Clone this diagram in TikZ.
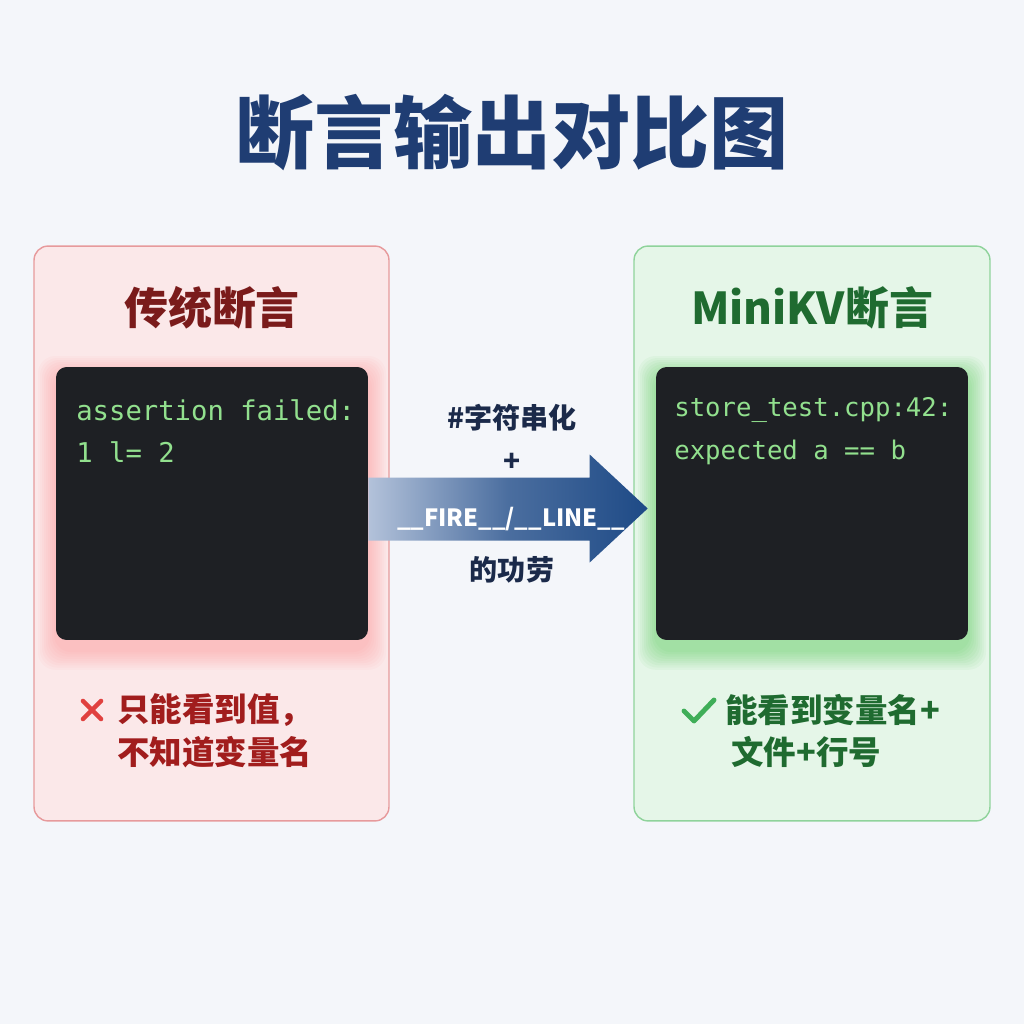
\documentclass[tikz,border=0pt]{standalone}
\usepackage{fontspec}
\newfontfamily\cjk{Noto Sans CJK SC}
\newfontfamily\mono{DejaVu Sans Mono}
\usetikzlibrary{calc}
\definecolor{bg}{HTML}{F4F6FA}
\definecolor{redbg}{HTML}{FBE8E9}
\definecolor{redline}{HTML}{E79A9C}
\definecolor{greenbg}{HTML}{E5F6E8}
\definecolor{greenline}{HTML}{8FD39B}
\definecolor{termbg}{HTML}{1E2024}
\definecolor{termtxt}{HTML}{92E08E}
\definecolor{navy}{HTML}{1F3D73}
\definecolor{darknavy}{HTML}{1B2A4A}
\definecolor{darkred}{HTML}{7A1B1B}
\definecolor{redtxt}{HTML}{A11D1D}
\definecolor{redx}{HTML}{E0413F}
\definecolor{darkgreen}{HTML}{1F6B30}
\definecolor{greencheck}{HTML}{3FAE58}
\definecolor{arrowdark}{HTML}{1E4A86}
\definecolor{arrowlight}{HTML}{B3C2DA}
\begin{document}
\begin{tikzpicture}[x=0.02cm,y=-0.02cm,
  panel/.style={rectangle, rounded corners=8pt, line width=0.8pt},
  term/.style={rectangle, rounded corners=6pt, fill=termbg, minimum width=6.24cm, minimum height=5.46cm},
  termtext/.style={text=termtxt, anchor=west, inner sep=0pt},
  heading/.style={font=\cjk\bfseries\fontsize{25}{30}\selectfont},
  arrowtext/.style={font=\cjk\bfseries\fontsize{16}{20}\selectfont, text=darknavy},
  note/.style={font=\cjk\bfseries\fontsize{18.5}{22}\selectfont, anchor=west, inner sep=0pt}]
\useasboundingbox (0,0) rectangle (1024,1024);
\fill[bg] (0,0) rectangle (1024,1024);

% title
\node[font=\cjk\bfseries\fontsize{45}{50}\selectfont, text=navy] (title) at (512,133) {断言输出对比图};

% panels
\node[panel, fill=redbg, draw=redline, minimum width=7.1cm, minimum height=11.5cm] (lp) at (211.5,533.5) {};
\node[panel, fill=greenbg, draw=greenline, minimum width=7.12cm, minimum height=11.5cm] (rp) at (812,533.5) {};

\node[heading, text=darkred] (lh) at (212,308) {传统断言};
\node[heading, text=darkgreen] (rh) at (812,308) {MiniKV断言};

% glows
\foreach \i in {1,...,9} {
  \fill[red!60, opacity=0.035, rounded corners=10pt] (56-2*\i,374-2*\i) rectangle (368+2*\i,650+2.2*\i);
  \fill[green!70!black, opacity=0.035, rounded corners=10pt] (656-2*\i,374-2*\i) rectangle (968+2*\i,650+2.2*\i);
}

% terminals
\node[term] (lt) at (212,503.5) {};
\node[term] (rt) at (812,503.5) {};

\node[termtext, font=\mono\fontsize{15.5}{18}\selectfont] (lt1) at (76,410) {assertion failed:};
\node[termtext, font=\mono\fontsize{15.5}{18}\selectfont] (lt2) at (76,452) {1 l= 2};
\node[termtext, font=\mono\fontsize{14.6}{18}\selectfont] (rt1) at (674,410) {store\_test.cpp:42:};
\node[termtext, font=\mono\fontsize{14.6}{18}\selectfont] (rt2) at (674,452) {expected a == b};

% arrow
\shade[left color=arrowlight, right color=arrowdark, middle color=arrowdark!70!arrowlight]
  ($(lt.east)+(0,-26)$) -- ($(rt.west)+(-66,-26)$) -- ($(rt.west)+(-66,-49)$)
  -- ($(rt.west)+(-8,5)$) -- ($(rt.west)+(-66,59)$) -- ($(rt.west)+(-66,37)$)
  -- ($(lt.east)+(0,37)$) -- cycle;

\node[arrowtext] (a1) at (512,418) {\#字符串化};
\node[arrowtext] (a2) at (512,462) {+};
\node[arrowtext, text=white, font=\cjk\bfseries\fontsize{13.5}{20}\selectfont] (a3) at (511,519) {\_\_FIRE\_\_/\_\_LINE\_\_};
\node[arrowtext] (a4) at (512,570) {的功劳};

% notes left
\draw[redx, line width=2.6pt, line cap=round] (83,701) -- (101,719) (83,719) -- (101,701);
\node[note, text=redtxt] (ln1) at (117,710) {只能看到值，};
\node[note, text=redtxt] (ln2) at (117,752) {不知道变量名};

% notes right
\draw[greencheck, line width=2.8pt, line cap=round, line join=round] (684,711) -- (694,721) -- (714,700);
\node[note, text=darkgreen] (rn1) at (725,710) {能看到变量名+};
\node[note, text=darkgreen] (rn2) at (731,752) {文件+行号};
\end{tikzpicture}
\end{document}
